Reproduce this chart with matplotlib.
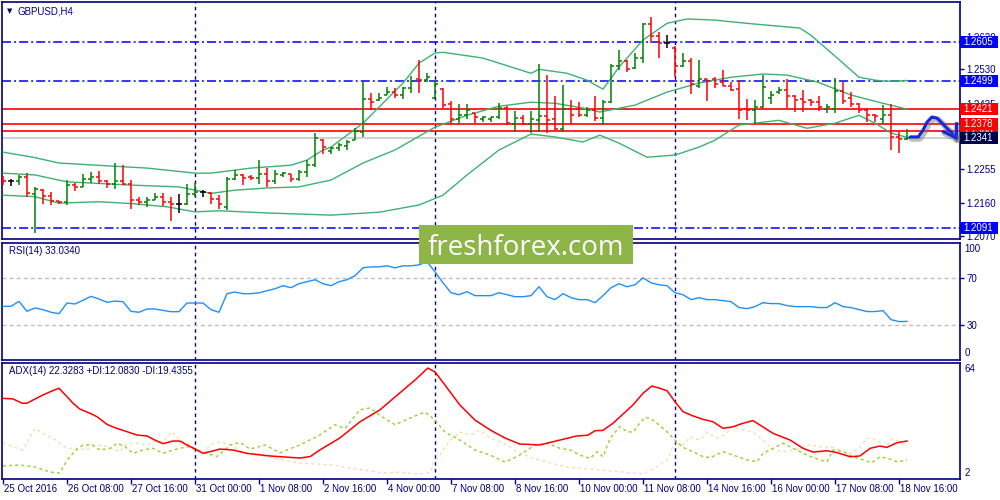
import matplotlib
matplotlib.use('Agg')
import matplotlib.pyplot as plt
import matplotlib.patheffects as pe
from matplotlib.patches import Rectangle
from matplotlib.transforms import blended_transform_factory as btf
import numpy as np

plt.rcParams['font.family'] = ['Liberation Sans', 'DejaVu Sans']
plt.rcParams['lines.scale_dashes'] = False

# ---------------- DATA ----------------
symbol_title = "GBPUSD,H4"
rsi_title = "RSI(14) 33.0340"
adx_title = "ADX(14) 22.3283 +DI:12.0830 -DI:19.4355"

opens = [1.2229, 1.2222, 1.2222, 1.2232, 1.2185, 1.2197, 1.2180, 1.2165, 1.2162, 1.2210,
         1.2205, 1.2226, 1.2232, 1.2222, 1.2212, 1.2222, 1.2214, 1.2168, 1.2162, 1.2169,
         1.2177, 1.2164, 1.2158, 1.2158, 1.2184, 1.2190, 1.2188, 1.2172, 1.2150, 1.2226,
         1.2238, 1.2232, 1.2229, 1.2240, 1.2222, 1.2238, 1.2240, 1.2226, 1.2246, 1.2265,
         1.2335, 1.2305, 1.2312, 1.2318, 1.2335, 1.2358, 1.2447, 1.2444, 1.2460, 1.2468,
         1.2458, 1.2478, 1.2502, 1.2500, 1.2452, 1.2475, 1.2434, 1.2392, 1.2405, 1.2408,
         1.2394, 1.2392, 1.2397, 1.2424, 1.2380, 1.2395, 1.2378, 1.2390, 1.2400, 1.2392,
         1.2365, 1.2420, 1.2420, 1.2405, 1.2418, 1.2395, 1.2440, 1.2540, 1.2552, 1.2533,
         1.2560, 1.2656, 1.2623, 1.2604, 1.2590, 1.2540, 1.2553, 1.2484, 1.2502, 1.2502,
         1.2494, 1.2484, 1.2476, 1.2420, 1.2418, 1.2426, 1.2452, 1.2468, 1.2472, 1.2456,
         1.2448, 1.2446, 1.2440, 1.2420, 1.2420, 1.2470, 1.2450, 1.2433, 1.2418, 1.2404,
         1.2393, 1.2403, 1.2343, 1.2336]
highs = [1.2235, 1.2228, 1.2239, 1.2244, 1.2205, 1.2198, 1.2191, 1.2166, 1.2224, 1.2216,
         1.2242, 1.2247, 1.2248, 1.2225, 1.2271, 1.2265, 1.2224, 1.2176, 1.2176, 1.2187,
         1.2189, 1.2176, 1.2185, 1.2212, 1.2216, 1.2196, 1.2191, 1.2182, 1.2231, 1.2251,
         1.2242, 1.2237, 1.2279, 1.2256, 1.2253, 1.2247, 1.2242, 1.2253, 1.2279, 1.2354,
         1.2337, 1.2316, 1.2327, 1.2334, 1.2367, 1.2495, 1.2465, 1.2465, 1.2480, 1.2477,
         1.2482, 1.2511, 1.2557, 1.2520, 1.2500, 1.2477, 1.2443, 1.2434, 1.2433, 1.2410,
         1.2401, 1.2399, 1.2438, 1.2428, 1.2415, 1.2405, 1.2415, 1.2546, 1.2514, 1.2456,
         1.2487, 1.2445, 1.2440, 1.2426, 1.2456, 1.2445, 1.2546, 1.2583, 1.2557, 1.2576,
         1.2658, 1.2675, 1.2634, 1.2624, 1.2594, 1.2574, 1.2560, 1.2555, 1.2502, 1.2509,
         1.2528, 1.2495, 1.2500, 1.2447, 1.2445, 1.2514, 1.2471, 1.2480, 1.2502, 1.2459,
         1.2472, 1.2449, 1.2456, 1.2434, 1.2506, 1.2495, 1.2468, 1.2436, 1.2422, 1.2406,
         1.2431, 1.2435, 1.2357, 1.2366]
lows = [1.2211, 1.2208, 1.2210, 1.2176, 1.2078, 1.2159, 1.2156, 1.2157, 1.2154, 1.2194,
        1.2204, 1.2216, 1.2214, 1.2203, 1.2198, 1.2210, 1.2145, 1.2155, 1.2150, 1.2168,
        1.2152, 1.2111, 1.2133, 1.2155, 1.2176, 1.2178, 1.2157, 1.2145, 1.2141, 1.2224,
        1.2210, 1.2225, 1.2214, 1.2205, 1.2213, 1.2231, 1.2219, 1.2222, 1.2233, 1.2259,
        1.2297, 1.2295, 1.2305, 1.2308, 1.2334, 1.2343, 1.2417, 1.2443, 1.2459, 1.2452,
        1.2447, 1.2465, 1.2465, 1.2496, 1.2449, 1.2422, 1.2380, 1.2382, 1.2394, 1.2382,
        1.2385, 1.2385, 1.2394, 1.2376, 1.2357, 1.2376, 1.2353, 1.2357, 1.2353, 1.2362,
        1.2357, 1.2380, 1.2399, 1.2399, 1.2388, 1.2376, 1.2436, 1.2528, 1.2523, 1.2532,
        1.2548, 1.2604, 1.2560, 1.2590, 1.2509, 1.2537, 1.2463, 1.2477, 1.2443, 1.2477,
        1.2483, 1.2470, 1.2394, 1.2391, 1.2378, 1.2422, 1.2434, 1.2463, 1.2422, 1.2412,
        1.2412, 1.2428, 1.2415, 1.2410, 1.2410, 1.2434, 1.2426, 1.2408, 1.2385, 1.2385,
        1.2380, 1.2307, 1.2299, 1.2334]
closes = [1.2222, 1.2222, 1.2232, 1.2188, 1.2200, 1.2180, 1.2165, 1.2162, 1.2210, 1.2205,
          1.2226, 1.2232, 1.2222, 1.2212, 1.2222, 1.2214, 1.2168, 1.2162, 1.2168, 1.2177,
          1.2164, 1.2158, 1.2158, 1.2186, 1.2190, 1.2190, 1.2172, 1.2158, 1.2226, 1.2238,
          1.2230, 1.2229, 1.2240, 1.2222, 1.2240, 1.2243, 1.2226, 1.2246, 1.2265, 1.2340,
          1.2315, 1.2312, 1.2320, 1.2330, 1.2360, 1.2447, 1.2440, 1.2452, 1.2468, 1.2458,
          1.2478, 1.2498, 1.2500, 1.2508, 1.2490, 1.2432, 1.2392, 1.2405, 1.2418, 1.2397,
          1.2397, 1.2397, 1.2424, 1.2382, 1.2395, 1.2380, 1.2393, 1.2400, 1.2391, 1.2365,
          1.2420, 1.2405, 1.2405, 1.2418, 1.2395, 1.2440, 1.2540, 1.2552, 1.2532, 1.2560,
          1.2656, 1.2623, 1.2604, 1.2604, 1.2540, 1.2553, 1.2490, 1.2502, 1.2497, 1.2490,
          1.2484, 1.2474, 1.2418, 1.2418, 1.2426, 1.2482, 1.2460, 1.2472, 1.2456, 1.2445,
          1.2440, 1.2440, 1.2425, 1.2425, 1.2470, 1.2443, 1.2435, 1.2418, 1.2403, 1.2400,
          1.2403, 1.2343, 1.2338, 1.2341]

# Bollinger bands (bar position, price)
bb_up_bar = [0, 3.75, 7, 14, 18, 24, 26, 31, 36, 38, 40, 41, 45, 50, 52, 54, 55, 60, 66, 67,
             70.5, 73, 75, 77, 80, 83, 85.5, 89, 93, 99.6, 101, 104.6, 107, 109, 110.5, 113]
bb_upper = [1.2301, 1.2287, 1.2271, 1.2262, 1.2257, 1.2243, 1.2243, 1.2257, 1.2265, 1.2279,
            1.2307, 1.2315, 1.2381, 1.2492, 1.2547, 1.2575, 1.2577, 1.2561, 1.2519, 1.2530,
            1.2519, 1.2500, 1.2475, 1.2536, 1.2611, 1.2657, 1.2669, 1.2666, 1.2657, 1.2644,
            1.2624, 1.2555, 1.2508, 1.2500, 1.2497, 1.2499]
bb_mid_bar = [0, 4, 8, 16, 22, 26, 29, 33, 37, 41, 45, 49, 54, 58, 62, 66, 69, 72.5, 74.6, 79,
              83, 87, 91, 95, 98, 101.75, 106, 110, 113]
bb_middle = [1.2243, 1.2238, 1.2219, 1.2210, 1.2205, 1.2187, 1.2196, 1.2202, 1.2205, 1.2224,
             1.2271, 1.2307, 1.2370, 1.2403, 1.2428, 1.2439, 1.2436, 1.2423, 1.2412, 1.2431,
             1.2467, 1.2492, 1.2508, 1.2517, 1.2514, 1.2495, 1.2459, 1.2436, 1.2420]
bb_low_bar = [0, 4, 7, 12, 16, 20.5, 24, 27, 33, 37, 41, 47, 52, 55, 58, 62, 66, 69, 72.5, 74.6,
              77, 80.5, 84, 87, 89, 92, 97, 100.5, 104, 107, 109, 111, 113]
bb_lower = [1.2182, 1.2178, 1.2160, 1.2164, 1.2159, 1.2150, 1.2136, 1.2139, 1.2133, 1.2130,
            1.2127, 1.2135, 1.2155, 1.2182, 1.2238, 1.2307, 1.2351, 1.2343, 1.2329, 1.2348,
            1.2326, 1.2287, 1.2293, 1.2315, 1.2334, 1.2376, 1.2389, 1.2367, 1.2381, 1.2403,
            1.2381, 1.2354, 1.2342]

# horizontal levels
blue_levels = [1.2605, 1.2499, 1.2091]
red_levels = [1.2421, 1.2378, 1.2360]
bid_price = 1.2341
price_ticks = [1.2620, 1.2530, 1.2435, 1.2345, 1.2255, 1.2160, 1.2070]
price_tick_labels = ["1.2620", "1.2530", "1.2435", "", "1.2255", "1.2160", "1.2070"]

# forecast sketch (bar position, price)
forecast_bar = [113.4, 114.4, 115.0, 115.5, 116.1, 116.75, 117.4, 118.0, 118.6, 119.1]
forecast_price = [1.2343, 1.2343, 1.2362, 1.2384, 1.2398, 1.2395, 1.2381, 1.2367, 1.2354, 1.2343]

# RSI(14) per bar
rsi = [45.9, 45.9, 50.1, 41.6, 44.5, 43.0, 40.8, 39.6, 48.7, 47.9,
       51.0, 54.4, 52.1, 49.3, 50.4, 49.8, 41.6, 40.8, 43.6, 43.6,
       42.4, 41.3, 41.3, 48.7, 48.7, 48.7, 43.0, 40.8, 56.7, 58.1,
       56.7, 56.7, 57.4, 59.2, 60.9, 63.5, 61.8, 65.2, 66.9, 68.6,
       65.2, 63.5, 66.9, 68.6, 72.0, 78.8, 79.6, 79.6, 80.5, 78.8,
       80.5, 80.5, 81.3, 83.9, 75.4, 66.0, 57.5, 55.8, 58.4, 55.0,
       55.0, 55.0, 57.5, 55.8, 54.1, 54.1, 55.0, 62.6, 54.1, 51.6,
       56.7, 53.3, 51.6, 51.6, 49.0, 55.0, 61.8, 65.2, 62.6, 64.3,
       70.2, 66.0, 64.3, 63.5, 57.5, 55.8, 51.6, 53.3, 51.6, 51.6,
       50.7, 49.9, 44.8, 43.9, 45.6, 49.0, 48.2, 48.2, 46.5, 45.6,
       45.6, 45.6, 44.8, 44.8, 49.0, 45.6, 44.8, 43.1, 41.4, 41.4,
       42.2, 34.5, 32.8, 33.0]
rsi_levels = [70, 30]

# ADX(14) lines (bar position, value)
adx_bar = [0, 1.25, 2.4, 3, 3.75, 5, 6.1, 7, 8, 8.75, 9.6, 10.9, 11.75, 13, 14, 15.5, 16.75, 18,
           19, 20, 21.25, 22.1, 23, 24.25, 25, 26.25, 27.1, 28.75, 30.5, 33.4, 37.1, 38.4, 39.6,
           42.1, 44.6, 47.1, 49.6, 51.5, 53.1, 54, 55.25, 57.1, 59, 60.9, 62.75, 64.6, 67.1, 69.6,
           71.75, 73.1, 74, 75, 76.25, 77.5, 78.75, 80, 81.1, 82.1, 83, 84, 85, 86.25, 87.5, 88.75,
           90, 91.25, 92.5, 93.75, 94.6, 96.25, 98.4, 100, 101.25, 103, 104.25, 105.9, 107.1,
           108.4, 109.6, 110.5, 111.75, 113]
adx_main = [45.1, 44.8, 42.5, 42.5, 44.2, 46.9, 49.0, 50.5, 46.0, 42.5, 39.4, 37.1, 35.3, 31.2,
            29.4, 27.3, 25.5, 25.0, 22.8, 20.9, 22.3, 22.3, 20.2, 17.5, 15.7, 17.0, 18.0, 17.5,
            15.7, 14.3, 13.2, 14.0, 17.5, 23.9, 32.5, 38.9, 48.0, 54.9, 61.3, 59.2, 52.2, 41.6,
            33.5, 28.2, 23.9, 20.7, 20.2, 22.8, 25.0, 25.4, 27.8, 28.0, 31.8, 36.7, 41.6, 47.8,
            51.7, 50.5, 49.2, 43.3, 38.0, 35.7, 33.9, 32.6, 29.1, 29.9, 31.8, 33.2, 30.9, 26.4,
            22.8, 18.4, 16.4, 17.1, 16.1, 13.9, 14.3, 18.4, 19.6, 18.9, 21.4, 22.3]
pdi_bar = [0, 2.1, 4, 5.9, 7.1, 8, 9, 10, 11.25, 12.1, 13.4, 14.25, 15.25, 16.25, 17.5, 18.75,
           20, 21.25, 23, 24.25, 25.5, 26.75, 28.4, 29.6, 30.9, 32.75, 34.6, 37.1, 39.6, 41.5,
           42.75, 44.6, 45.9, 47.1, 49, 50.9, 52.75, 54, 55.25, 57.1, 59, 60.9, 62.75, 64.6, 66.5,
           68.1, 69.6, 70.9, 72.1, 73.4, 74.25, 75, 75.9, 77.1, 78, 78.75, 79.6, 80.25, 80.9,
           81.75, 83, 84, 85, 86.25, 87.5, 88.4, 90, 91.25, 93, 94.25, 95, 96.25, 97.5, 98.75,
           100.5, 102.1, 103, 103.75, 105, 106.25, 107.5, 108.6, 109.6, 110.6, 111.75, 113]
plus_di = [9.0, 9.5, 8.4, 5.7, 5.2, 12.0, 17.0, 20.2, 20.2, 17.5, 18.4, 21.1, 19.3, 15.7, 17.5,
           18.4, 15.7, 17.5, 19.3, 17.5, 15.7, 14.0, 20.2, 21.6, 18.0, 20.2, 16.0, 20.2, 25.5,
           31.0, 29.0, 39.0, 40.0, 36.0, 31.0, 34.6, 37.8, 33.5, 27.0, 22.8, 17.5, 14.8, 11.0,
           14.8, 20.2, 21.0, 18.4, 17.5, 14.8, 13.0, 16.6, 13.9, 23.8, 30.0, 27.3, 27.0, 31.8,
           35.0, 34.4, 31.8, 27.3, 22.8, 18.9, 16.6, 13.9, 13.4, 16.6, 14.8, 12.2, 11.2, 15.7,
           18.4, 21.1, 18.4, 14.8, 12.2, 11.2, 17.5, 16.6, 13.9, 12.2, 10.7, 13.9, 13.0, 11.2, 12.1]
mdi_bar = [0, 1.25, 2.5, 4, 5, 6.25, 7.1, 8, 9.25, 10.5, 11.75, 13, 14.6, 15.5, 16.75, 18, 18.75,
           20, 21.1, 22.1, 23, 24.25, 25, 25.9, 27.1, 28.4, 29.6, 30.5, 32.75, 35, 37.1, 41.25,
           43.4, 47.5, 49.6, 51.75, 53.4, 53.75, 54.6, 55.9, 57.1, 58.4, 59.6, 60.9, 62.1, 63.4,
           64.6, 65.9, 67.1, 70.5, 74.6, 80, 81.75, 83, 84, 84.9, 85.9, 87.1, 88, 89.25, 90.25,
           91.25, 92.5, 93.75, 95, 96.25, 98, 99.6, 100.9, 102.5, 103.75, 105.9, 107.1, 108,
           109.25, 110.25, 111.25, 113]
minus_di = [21.2, 19.3, 17.5, 29.1, 26.4, 23.8, 21.1, 18.4, 18.4, 17.5, 20.2, 19.3, 16.6, 21.1,
            21.1, 20.2, 21.9, 21.9, 27.3, 22.8, 21.2, 17.5, 15.9, 20.2, 21.9, 20.2, 17.0, 15.9,
            14.0, 12.2, 10.5, 9.5, 7.9, 5.2, 5.7, 4.7, 5.2, 10.5, 14.8, 22.8, 27.0, 25.5, 28.0,
            24.0, 22.0, 19.0, 16.0, 13.5, 12.0, 8.4, 6.8, 4.7, 8.6, 12.2, 21.9, 19.3, 24.6, 22.8,
            26.7, 23.8, 25.5, 30.0, 28.2, 27.0, 22.8, 17.5, 16.6, 18.4, 20.2, 19.0, 18.8, 15.7,
            18.9, 23.8, 22.8, 18.9, 23.8, 19.4]

# time axis
date_labels = ["25 Oct 2016", "26 Oct 08:00", "27 Oct 16:00", "31 Oct 00:00", "1 Nov 08:00",
               "2 Nov 16:00", "4 Nov 00:00", "7 Nov 08:00", "8 Nov 16:00", "10 Nov 00:00",
               "11 Nov 08:00", "14 Nov 16:00", "16 Nov 00:00", "17 Nov 08:00", "18 Nov 16:00"]
date_bars = [0, 8, 16, 24, 32, 40, 48, 56, 64, 72, 80, 88, 96, 104, 112]
week_start_bars = [24, 54, 84]

watermark = "freshforex.com"

# ---------------- STYLE ----------------
NAVY = '#000080'
UP, DOWN, DOJI = '#008000', '#FF0000', '#000000'
BB = '#3CB371'
W, H = 1000, 500

fig = plt.figure(figsize=(10, 5), dpi=100)
fig.patch.set_facecolor('white')

def rect(l, t, r, b):
    return [l / W, 1 - b / H, (r - l) / W, (b - t) / H]

ax1 = fig.add_axes(rect(2, 2, 960, 239))
ax2 = fig.add_axes(rect(2, 243, 960, 360))
ax3 = fig.add_axes(rect(2, 363, 960, 479))

XMIN, XMAX = -0.125, 119.625
for ax in (ax1, ax2, ax3):
    ax.set_xlim(XMIN, XMAX)
    for s in ax.spines.values():
        s.set_color(NAVY)
        s.set_linewidth(1.2)
    ax.tick_params(axis='x', bottom=False, labelbottom=False)
    for b in week_start_bars:
        ax.axvline(b, color=NAVY, lw=1.0, ls=(0, (2.5, 2.5)), zorder=1)

# ---- main panel ----
ax1.set_ylim(1.2061, 1.2716)
for v in blue_levels:
    ax1.axhline(v, color='#0000FF', lw=1.1, ls=(0, (6.5, 2.2, 1.4, 2.2)), zorder=2)
for v in red_levels:
    ax1.axhline(v, color='#FF0000', lw=1.2, zorder=2)
ax1.axhline(bid_price, color='#C8C8C8', lw=1.2, zorder=1.5)

ax1.plot(bb_up_bar, bb_upper, color=BB, lw=1.0, zorder=3)
ax1.plot(bb_mid_bar, bb_middle, color=BB, lw=1.0, zorder=3)
ax1.plot(bb_low_bar, bb_lower, color=BB, lw=1.0, zorder=3)

idx = np.arange(len(opens))
cols = [UP if c > o else (DOWN if c < o else DOJI) for o, c in zip(opens, closes)]
ax1.vlines(idx, lows, highs, colors=cols, lw=1.1, zorder=5)
ax1.hlines(opens, idx - 0.36, idx, colors=cols, lw=1.1, zorder=5)
ax1.hlines(closes, idx, idx + 0.36, colors=cols, lw=1.1, zorder=5)

shadow = [pe.SimpleLineShadow(offset=(1.2, -1.2), shadow_color='#707070', alpha=0.45,
                              linewidth=4.5), pe.Normal()]
ax1.plot(forecast_bar, forecast_price, color='#1428E0', lw=2.2, solid_capstyle='round',
         solid_joinstyle='round', zorder=8, path_effects=shadow)
ax1.plot([forecast_bar[-1], forecast_bar[-1]], [1.2381, forecast_price[-1] - 0.0003],
         color='#1428E0', lw=2.2, zorder=8, solid_capstyle='round', path_effects=shadow)
ax1.plot([117.5, forecast_bar[-1]], [1.2358, forecast_price[-1] - 0.0002],
         color='#1428E0', lw=2.2, zorder=8, solid_capstyle='round', path_effects=shadow)

ax1.yaxis.tick_right()
ax1.set_yticks(price_ticks)
ax1.set_yticklabels(price_tick_labels)
ax1.tick_params(axis='y', direction='out', length=3, width=1, color=NAVY,
                labelsize=7, labelcolor=NAVY, pad=1.5)

fig.text(7 / W, 1 - 11 / H, '\u25bc', fontsize=5, color=NAVY, va='center', ha='left',
         family='DejaVu Sans')
fig.text(18 / W, 1 - 11 / H, symbol_title, fontsize=7, color=NAVY, va='center', ha='left')

# price boxes on the right scale
box_levels = [(1.2605, '#0000FF'), (1.2499, '#0000FF'), (1.2091, '#0000FF'),
              (1.2421, '#FF0000'), (1.2360, '#FF0000'), (1.2378, '#FF0000'),
              (bid_price, '#000050')]
for k, (v, col) in enumerate(box_levels):
    yd = ax1.transData.transform((0, v))[1]
    fig.add_artist(Rectangle((960 / W, (yd - 6) / H), 38 / W, 12 / H, transform=fig.transFigure,
                             fc=col, ec='none', zorder=10 + 2 * k))
    fig.text(963 / W, yd / H, f'{v:.4f}', color='white', fontsize=7, va='center', ha='left',
             zorder=11 + 2 * k)

# ---- RSI panel ----
ax2.set_ylim(0, 100)
for lv in rsi_levels:
    ax2.axhline(lv, color='#C0C0C0', lw=1.0, ls=(0, (2.9, 2.2)), zorder=1)
ax2.plot(idx, rsi, color='#1E90FF', lw=1.0, zorder=4)
ax2.yaxis.tick_right()
ax2.set_yticks(rsi_levels)
ax2.set_yticklabels([str(v) for v in rsi_levels])
ax2.tick_params(axis='y', direction='out', length=3, width=1, color=NAVY,
                labelsize=7, labelcolor=NAVY, pad=1.5)
tr2 = btf(ax2.transAxes, ax2.transData)
ax2.annotate('100', xy=(1, 100), xycoords=tr2, xytext=(3.2, -4.3), textcoords='offset points',
             fontsize=7, color=NAVY, va='center', ha='left', annotation_clip=False)
ax2.annotate('0', xy=(1, 0), xycoords=tr2, xytext=(3.2, 5.0), textcoords='offset points',
             fontsize=7, color=NAVY, va='center', ha='left', annotation_clip=False)
ax2.text(7 / 958, 1 - 8 / 117, rsi_title, transform=ax2.transAxes, fontsize=7, color=NAVY,
         va='center', ha='left')

# ---- ADX panel ----
ax3.set_ylim(2, 64)
ax3.plot(mdi_bar, minus_di, color='#F5DEB3', lw=1.0, ls=(0, (2.2, 2.2)), zorder=3)
ax3.plot(pdi_bar, plus_di, color='#9ACD32', lw=1.0, ls=(0, (2.2, 2.2)), zorder=3)
ax3.plot(adx_bar, adx_main, color='#FF0000', lw=1.1, zorder=4)
ax3.set_yticks([])
tr3 = btf(ax3.transAxes, ax3.transData)
ax3.annotate('64', xy=(1, 64), xycoords=tr3, xytext=(3.2, -4.3), textcoords='offset points',
             fontsize=7, color=NAVY, va='center', ha='left', annotation_clip=False)
ax3.annotate('2', xy=(1, 2), xycoords=tr3, xytext=(3.2, 4.3), textcoords='offset points',
             fontsize=7, color=NAVY, va='center', ha='left', annotation_clip=False)
ax3.text(7 / 958, 1 - 8 / 116, adx_title, transform=ax3.transAxes, fontsize=7, color=NAVY,
         va='center', ha='left')

ax3.set_xticks(date_bars)
ax3.tick_params(axis='x', bottom=True, direction='out', length=3.5, width=1, color=NAVY,
                labelbottom=False)
trx = btf(ax3.transData, ax3.transAxes)
for b, lab in zip(date_bars, date_labels):
    ax3.annotate(lab, xy=(b, 0), xycoords=trx, xytext=(0.8, -3.6), textcoords='offset points',
                 fontsize=7, color=NAVY, va='top', ha='left', annotation_clip=False)

# watermark
fig.add_artist(Rectangle((419 / W, 1 - 264 / H), 214 / W, 39 / H, transform=fig.transFigure,
                         fc='#8DB548', ec='none', zorder=50))
fig.text(526 / W, 1 - 255 / H, watermark, fontsize=20, color='white', family='Open Sans',
         va='baseline', ha='center', zorder=51)

fig.savefig('out.png', dpi=100, facecolor='white')
